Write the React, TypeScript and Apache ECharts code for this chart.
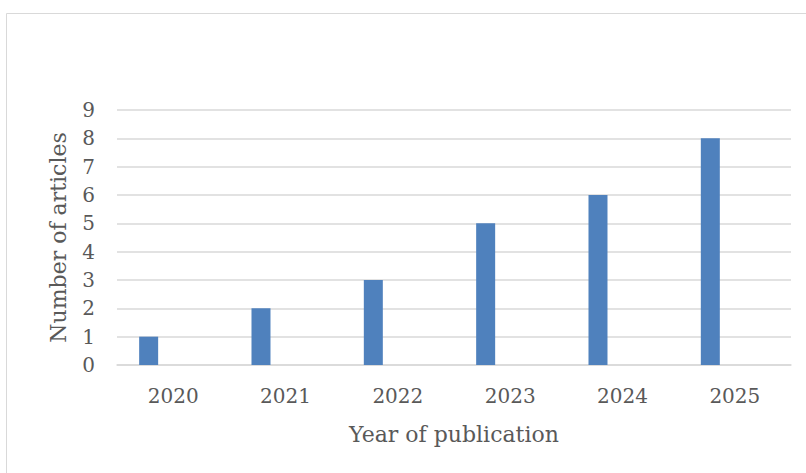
import React, { useEffect, useRef } from "react";
import * as echarts from "echarts";

const years = ["2020", "2021", "2022", "2023", "2024", "2025"];
const articles = [1, 2, 3, 5, 6, 8];
const emptySeries = [null, null, null, null, null, null];

const FONT = "DejaVu Serif";
const TEXT = "#595959";
const GRID = "#D9D9D9";

export default function App() {
  const ref = useRef<HTMLDivElement>(null);
  useEffect(() => {
    if (!ref.current) return;
    const chart = echarts.init(ref.current, null, { renderer: "svg" });
    chart.setOption({
      animation: false,
      backgroundColor: "#ffffff",
      graphic: [
        {
          type: "rect",
          shape: { x: 6.5, y: 13.5, width: 830, height: 500 },
          style: { fill: "none", stroke: GRID, lineWidth: 1 },
          silent: true,
        },
      ],
      grid: { left: 117, right: 15, top: 110, bottom: 108 },
      xAxis: {
        type: "category",
        data: years,
        axisTick: { show: false },
        axisLine: { show: true, lineStyle: { color: GRID, width: 1.5 } },
        axisLabel: { color: TEXT, fontFamily: FONT, fontSize: 20, margin: 21 },
        name: "Year of publication",
        nameLocation: "middle",
        nameGap: 58,
        nameTextStyle: { color: TEXT, fontFamily: FONT, fontSize: 22 },
      },
      yAxis: {
        type: "value",
        min: 0,
        max: 9,
        interval: 1,
        axisLine: { show: false },
        axisTick: { show: false },
        splitLine: { lineStyle: { color: GRID, width: 1.5 } },
        axisLabel: { color: TEXT, fontFamily: FONT, fontSize: 20, margin: 22 },
        name: "Number of articles",
        nameLocation: "middle",
        nameGap: 48,
        nameTextStyle: { color: TEXT, fontFamily: FONT, fontSize: 22 },
      },
      series: [
        {
          type: "bar",
          data: articles,
          barWidth: 19,
          barGap: "158%",
          itemStyle: { color: "#4F81BD" },
        },
        {
          type: "bar",
          data: emptySeries,
          barWidth: 19,
          itemStyle: { color: "#C0504D" },
        },
      ],
    });
    return () => chart.dispose();
  }, []);
  return (
    <div
      ref={ref}
      style={{ position: "absolute", left: 0, top: 0, width: 806, height: 473 }}
    />
  );
}
